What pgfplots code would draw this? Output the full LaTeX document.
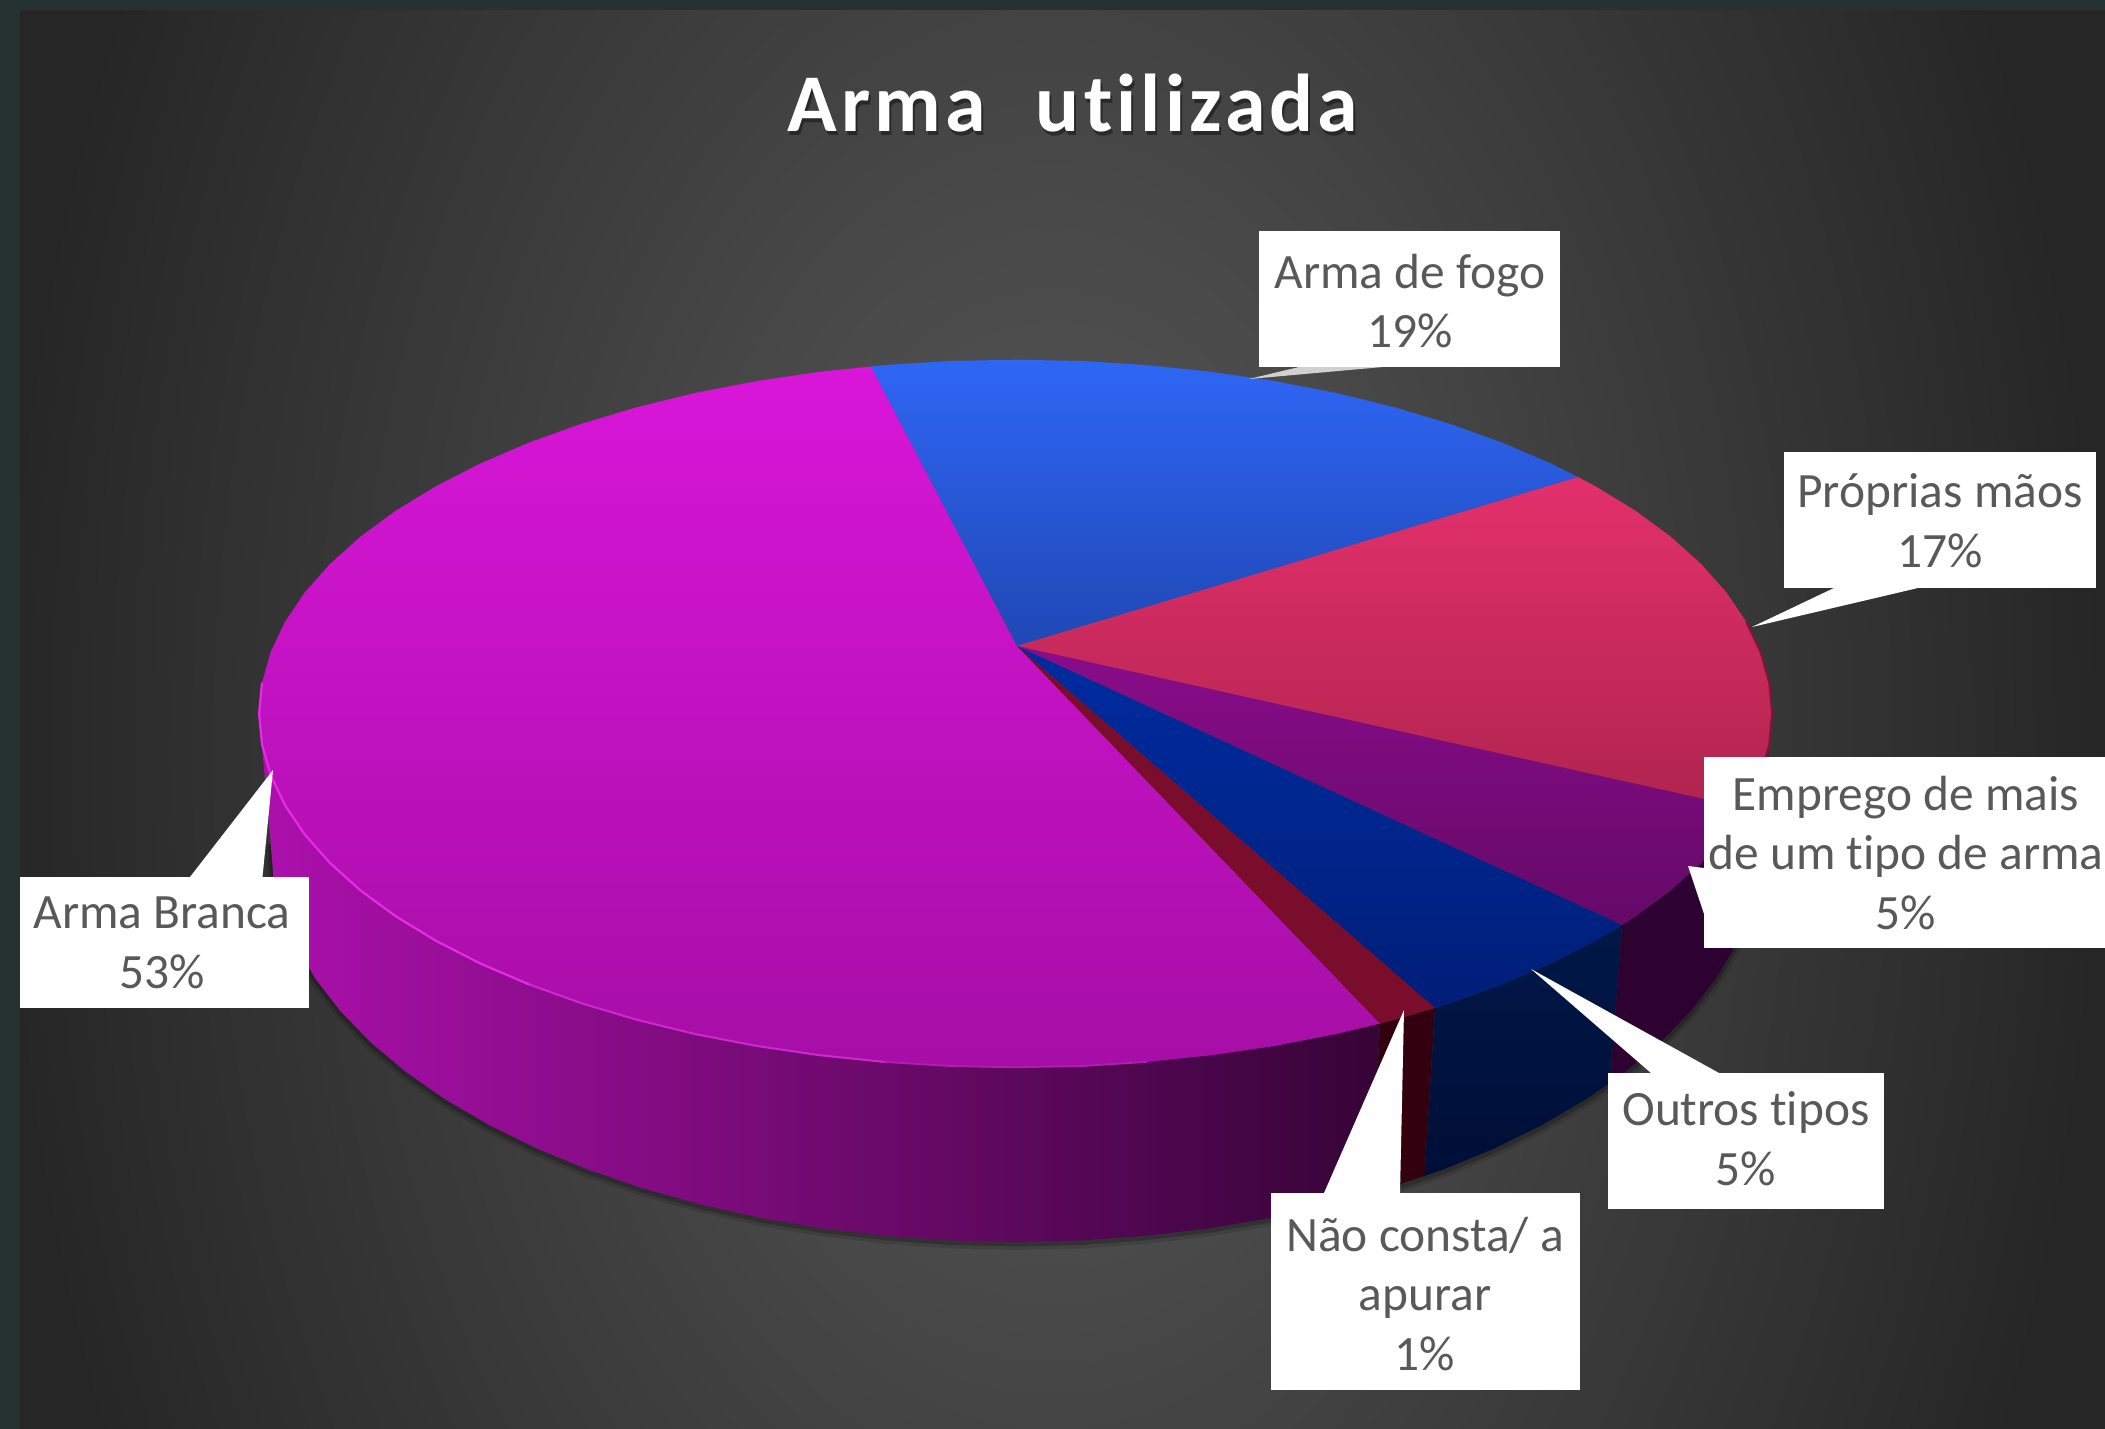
\documentclass[border=0pt]{standalone}
\usepackage{fontspec}
\usepackage{pgfplots}
\usepackage{pgfplotstable}
\pgfplotsset{compat=1.18}
\setmainfont[Ligatures=NoCommon]{Carlito}
\newfontfamily\titlefont[LetterSpace=5,Ligatures=NoCommon]{Carlito}
\definecolor{strip}{HTML}{263230}
\definecolor{labeltext}{HTML}{595959}
\definecolor{bginner}{HTML}{5A5A5A}
\definecolor{bgouter}{HTML}{262626}
\newcommand{\lab}[3]{\fill[white] #1; \node[align=center,inner sep=0pt,text=labeltext,font=\fontsize{24.7}{29.8}\selectfont] at #2 {#3};}
\pgfplotstableread{
x y
1760.6 842
1757.8 876.9
1749.3 911.5
1735.2 945.5
1715.7 978.8
1690.8 1011
1660.8 1042
1625.9 1071.4
1586.3 1099.1
1542.4 1124.8
1494.5 1148.4
1442.9 1169.7
1388.1 1188.4
1330.4 1204.5
1270.4 1217.9
1208.4 1228.4
1144.9 1235.9
1080.5 1240.5
1015.6 1242
950.7 1240.5
886.3 1235.9
822.8 1228.4
760.8 1217.9
700.8 1204.5
643.1 1188.4
588.3 1169.7
536.7 1148.4
488.8 1124.8
444.9 1099.1
405.3 1071.4
370.4 1042
340.4 1011
315.5 978.8
296 945.5
281.9 911.5
273.4 876.9
270.6 842
}\rimlow
\begin{document}
\begin{tikzpicture}
\path[use as bounding box,clip] (0,0) rectangle (1052.5pt,714.5pt);
\fill[strip] (0,0) rectangle (1052.5pt,714.5pt);
\begin{scope}
\clip (10pt,0) rectangle (1052.5pt,709pt);
\path[inner color=bginner,outer color=bgouter] (0,-480pt) rectangle (1052.5pt,1160pt);
\end{scope}
\begin{axis}[scale only axis,width=1052.5pt,height=714.5pt,xmin=0,xmax=2105,ymin=0,ymax=1429,y dir=reverse,hide axis,no markers,clip=false]
% soft shadow
\addplot[draw=black,line width=5pt,opacity=.12] table[x=x,y expr=\thisrow{y}+3] {\rimlow};
\addplot[draw=black,line width=2.5pt,opacity=.22] table[x=x,y expr=\thisrow{y}+2] {\rimlow};
% walls
\addplot[draw=none,left color={rgb,255:red,172;green,16;blue,172},middle color={rgb,255:red,100;green,7;blue,100},right color={rgb,255:red,54;green,4;blue,54}] coordinates {(259.1,713.5)(270.6,842)(273.4,876.9)(281.9,911.5)(296,945.5)(315.5,978.8)(340.4,1011)(370.4,1042)(405.3,1071.4)(444.9,1099.1)(488.8,1124.8)(536.7,1148.4)(588.3,1169.7)(643.1,1188.4)(700.8,1204.5)(760.8,1217.9)(822.8,1228.4)(886.3,1235.9)(950.7,1240.5)(1015.6,1242)(1080.5,1240.5)(1144.9,1235.9)(1208.4,1228.4)(1270.4,1217.9)(1330.4,1204.5)(1371,1193.6)(1380,1023.5)(259.1,713.5)};
\addplot[draw=none,fill={rgb,255:red,51;green,0;blue,15}] coordinates {(1380,1023.5)(1393.9,1019.9)(1435,1008)(1424.5,1176)(1371,1193.6)(1380,1023.5)};
\addplot[draw=none,top color={rgb,255:red,0;green,24;blue,72},bottom color={rgb,255:red,0;green,14;blue,54}] coordinates {(1435,1008)(1449.5,1003.3)(1501.9,984.5)(1550.5,963.7)(1595.1,940.9)(1622,925)(1610,1083)(1586.3,1099.1)(1542.4,1124.8)(1494.5,1148.4)(1442.9,1169.7)(1424.5,1176)(1435,1008)};
\addplot[draw=none,fill={rgb,255:red,45;green,2;blue,48}] coordinates {(1622,925)(1635.3,916.4)(1670.7,890.4)(1701.2,863)(1726.5,834.5)(1744,808)(1733,950)(1715.7,978.8)(1690.8,1011)(1660.8,1042)(1625.9,1071.4)(1610,1083)(1622,925)};
\addplot[draw=none,fill={rgb,255:red,110;green,16;blue,50}] coordinates {(1772.1,713.5)(1769.2,744.3)(1760.6,774.9)(1746.3,805.1)(1744,808)(1733,950)(1735.2,945.5)(1749.3,911.5)(1757.8,876.9)(1760.6,842)(1772.1,713.5)};
% top faces
\addplot[draw=none,top color={rgb,255:red,217;green,22;blue,217},bottom color={rgb,255:red,166;green,14;blue,166}] coordinates {(1017,646)(1380,1023.5)(1335.3,1034.2)(1274.3,1046)(1211.4,1055.2)(1147,1061.9)(1081.6,1066)(1015.6,1067.3)(949.6,1066)(884.2,1061.9)(819.8,1055.2)(756.9,1046)(695.9,1034.2)(637.3,1019.9)(581.7,1003.3)(529.3,984.5)(480.7,963.7)(436.1,940.9)(395.9,916.4)(360.5,890.4)(330,863)(304.7,834.5)(284.9,805.1)(270.6,774.9)(262,744.3)(259.1,713.5)(262,682.7)(270.6,652.1)(284.9,621.9)(304.7,592.5)(330,564)(360.5,536.6)(395.9,510.6)(436.1,486.1)(480.7,463.3)(529.3,442.5)(581.7,423.7)(637.3,407.1)(695.9,392.8)(756.9,381)(819.8,371.8)(871,366.5)(1017,646)};
\addplot[draw=none,top color={rgb,255:red,46;green,102;blue,245},bottom color={rgb,255:red,32;green,72;blue,181}] coordinates {(1017,646)(871,366.5)(884.2,365.1)(949.6,361)(1015.6,359.7)(1081.6,361)(1147,365.1)(1211.4,371.8)(1274.3,381)(1335.3,392.8)(1393.9,407.1)(1449.5,423.7)(1501.9,442.5)(1550.5,463.3)(1578,477)(1017,646)};
\addplot[draw=none,top color={rgb,255:red,227;green,48;blue,108},bottom color={rgb,255:red,176;green,36;blue,78}] coordinates {(1017,646)(1578,477)(1595.1,486.1)(1635.3,510.6)(1670.7,536.6)(1701.2,564)(1726.5,592.5)(1746.3,621.9)(1760.6,652.1)(1769.2,682.7)(1772.1,713.5)(1769.2,744.3)(1760.6,774.9)(1746.3,805.1)(1744,808)(1017,646)};
\addplot[draw=none,top color={rgb,255:red,138;green,12;blue,138},bottom color={rgb,255:red,100;green,10;blue,104}] coordinates {(1017,646)(1744,808)(1726.5,834.5)(1701.2,863)(1670.7,890.4)(1635.3,916.4)(1622,925)(1017,646)};
\addplot[draw=none,top color={rgb,255:red,0;green,44;blue,160},bottom color={rgb,255:red,0;green,30;blue,120}] coordinates {(1017,646)(1622,925)(1595.1,940.9)(1550.5,963.7)(1501.9,984.5)(1449.5,1003.3)(1435,1008)(1017,646)};
\addplot[draw=none,fill={rgb,255:red,122;green,12;blue,44}] coordinates {(1017,646)(1435,1008)(1393.9,1019.9)(1380,1023.5)(1017,646)};
% rim highlights
\addplot[draw={rgb,255:red,176;green,30;blue,176},line width=.9pt] coordinates {(1147,1061.9)(1081.6,1066)(1015.6,1067.3)(949.6,1066)(884.2,1061.9)};
\addplot[draw={rgb,255:red,208;green,40;blue,208},line width=1pt] coordinates {(884.2,1061.9)(819.8,1055.2)(756.9,1046)(695.9,1034.2)(637.3,1019.9)(581.7,1003.3)(529.3,984.5)};
\addplot[draw={rgb,255:red,228;green,44;blue,228},line width=1.1pt] coordinates {(529.3,984.5)(480.7,963.7)(436.1,940.9)(395.9,916.4)(360.5,890.4)(330,863)(304.7,834.5)(284.9,805.1)(270.6,774.9)(262,744.3)(259.1,713.5)(262,682.7)};
\addplot[draw={rgb,255:red,130;green,20;blue,55},line width=1pt] coordinates {(1746.3,621.9)(1760.6,652.1)(1769.2,682.7)(1772.1,713.5)(1769.2,744.3)(1760.6,774.9)};
% callouts
\addplot[draw=none,fill=white,opacity=.75] coordinates {(1249,379)(1299,367)(1383,367)(1249,379)};
\addplot[draw=none,fill=white] coordinates {(1752,627)(1834,588)(1918,588)(1752,627)};
\addplot[draw=none,fill=white] coordinates {(1688,866)(1704,868)(1704,914)(1688,866)};
\addplot[draw=none,fill=white] coordinates {(1531,969)(1651,1073)(1719,1073)(1531,969)};
\addplot[draw=none,fill=white] coordinates {(1404,1010)(1324,1193)(1400,1193)(1404,1010)};
\addplot[draw=none,fill=white] coordinates {(273,770)(190,877)(262.5,877)(273,770)};
% title
\node[text=black,opacity=.4,font=\titlefont\fontsize{41}{45}\selectfont\bfseries,anchor=base] at (axis cs:1075,135) {Arma\,\, utilizada};
\node[text=white,font=\titlefont\fontsize{41}{45}\selectfont\bfseries,anchor=base] at (axis cs:1073,132) {Arma\,\, utilizada};
% labels
\lab{(axis cs:1259,231) rectangle (axis cs:1560,367)}{(axis cs:1410,301)}{Arma de fogo\\19\%}
\lab{(axis cs:1784,452) rectangle (axis cs:2096,588)}{(axis cs:1940,521)}{Próprias mãos\\17\%}
\lab{(axis cs:1704,757) rectangle (axis cs:2105,948)}{(axis cs:1906,853)}{Emprego de mais\\de um tipo de arma\\5\%}
\lab{(axis cs:1608,1073) rectangle (axis cs:1884,1209)}{(axis cs:1746,1139)}{Outros tipos\\5\%}
\lab{(axis cs:1271,1193) rectangle (axis cs:1580,1390)}{(axis cs:1425,1294)}{Não consta/ a\\apurar\\1\%}
\lab{(axis cs:20,877) rectangle (axis cs:309,1008)}{(axis cs:162,943)}{Arma Branca\\53\%}
\end{axis}
\end{tikzpicture}
\end{document}
